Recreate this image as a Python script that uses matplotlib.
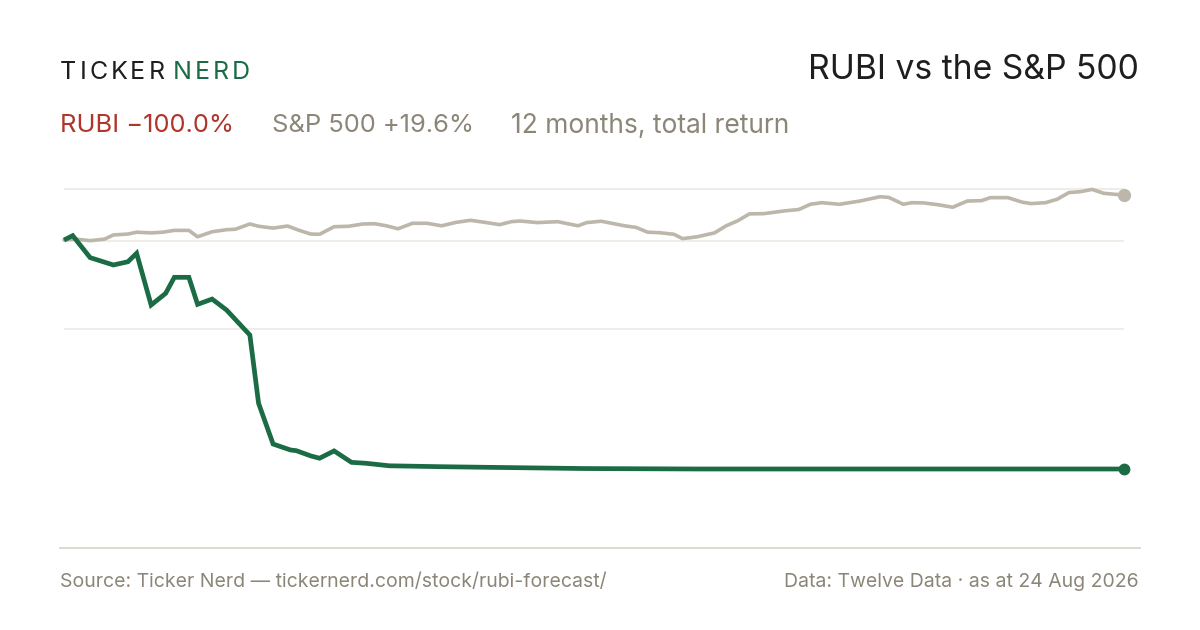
import matplotlib
matplotlib.use("Agg")
import matplotlib.pyplot as plt
from matplotlib.lines import Line2D

# ---------------- data ----------------
rubi_days = [0, 3, 9, 17, 22, 25, 30, 35, 38, 43, 46, 51, 56, 64, 67, 72, 78, 80,
             85, 88, 93, 99, 104, 112, 130, 148, 179, 219, 253, 288, 322, 365]
rubi_ret = [0.0, 1.9, -7.7, -10.9, -9.5, -5.8, -28.4, -23.3, -16.3, -16.3, -28.1,
            -25.8, -30.6, -41.5, -71.3, -89.1, -91.7, -92.0, -94.3, -95.3, -92.1,
            -97.1, -97.5, -98.6, -99.0, -99.3, -99.8, -100.0, -100.0, -100.0,
            -100.0, -100.0]

spx_days = [0, 4, 9, 14, 17, 22, 25, 30, 34, 38, 43, 46, 51, 56, 59, 64, 67, 72,
            77, 81, 85, 88, 93, 98, 103, 107, 111, 115, 120, 125, 130, 135, 140,
            145, 150, 154, 157, 163, 170, 177, 180, 185, 193, 197, 201, 205, 210,
            213, 218, 224, 228, 232, 236, 241, 248, 253, 257, 261, 267, 274, 281,
            284, 289, 292, 296, 301, 306, 311, 316, 319, 325, 330, 333, 338, 342,
            346, 350, 354, 358, 365]
spx_ret = [0.0, 0.4, -0.3, 0.4, 2.2, 2.6, 3.4, 3.1, 3.4, 4.2, 4.2, 1.4, 3.6, 4.5,
           4.7, 7.0, 6.0, 5.2, 6.1, 4.2, 2.6, 2.5, 5.8, 6.0, 7.0, 7.1, 6.2, 4.9,
           7.3, 7.3, 6.2, 7.7, 8.6, 7.7, 6.7, 8.0, 8.3, 7.6, 8.0, 6.2, 7.6, 8.2,
           6.2, 5.5, 3.4, 3.2, 2.5, 0.6, 1.4, 3.1, 6.2, 8.4, 11.4, 11.5, 12.7,
           13.3, 15.6, 16.3, 15.6, 17.0, 18.9, 18.6, 15.6, 16.3, 16.2, 15.4,
           14.3, 17.0, 17.2, 18.5, 18.5, 16.5, 15.9, 16.3, 17.8, 20.7, 21.1,
           22.1, 20.4, 19.6]

grid_levels = [22.3, -0.4, -38.9]

title = "RUBI vs the S&P 500"
rubi_label = "RUBI \u2212100.0%"
spx_label = "S&P 500 +19.6%"
period_label = "12 months, total return"
source_text = "Source: Ticker Nerd \u2014 tickernerd.com/stock/rubi-forecast/"
data_text = "Data: Twelve Data \u00b7 as at 24 Aug 2026"

# ---------------- style ----------------
GREEN = "#1b6b45"
GREY_LINE = "#bdb6aa"
GRID = "#ebe8e1"
RED = "#b0352b"
GREY_TEXT = "#8c8678"
DARK = "#1e1e1e"
FONT = ["Inter", "DejaVu Sans"]

W, H = 1200, 630
fig = plt.figure(figsize=(W / 100, H / 100), dpi=100)
fig.patch.set_facecolor("white")

def fx(px):
    return px / W

def fy(py):
    return 1 - py / H

# axes region in pixels
ax_l, ax_r, ax_t, ax_b = 64, 1124, 170, 510
ax = fig.add_axes([fx(ax_l), fy(ax_b), (ax_r - ax_l) / W, (ax_b - ax_t) / H])
ax.set_xlim(0, 365)
scale = 2.29  # px per percentage point
ax.set_ylim((240 - ax_b) / scale, (240 - ax_t) / scale)
ax.axis("off")

for g in grid_levels:
    ax.axhline(g, color=GRID, lw=1.1, zorder=1)

ax.plot(spx_days, spx_ret, color=GREY_LINE, lw=2.6, solid_joinstyle="round",
        solid_capstyle="round", zorder=2, clip_on=False)
ax.plot(rubi_days, rubi_ret, color=GREEN, lw=3.4, solid_joinstyle="miter",
        solid_capstyle="butt", zorder=3, clip_on=False)
ax.plot([spx_days[-1]], [spx_ret[-1]], "o", color=GREY_LINE, ms=8.5, zorder=4,
        clip_on=False)
ax.plot([rubi_days[-1]], [rubi_ret[-1]], "o", color=GREEN, ms=7.5, zorder=5,
        clip_on=False)

# separator line
fig.add_artist(Line2D([fx(60), fx(1140)], [fy(548), fy(548)], color="#dcd8cd",
                      lw=1.3, transform=fig.transFigure))

# ---------------- text ----------------
fig.canvas.draw()
renderer = fig.canvas.get_renderer()

def spaced(text, x_px, y_px, color, size, spacing_px):
    x = x_px
    for ch in text:
        t = fig.text(fx(x), fy(y_px), ch, color=color, fontsize=size,
                     family=FONT, va="baseline", ha="left")
        bb = t.get_window_extent(renderer=renderer)
        x = bb.x1 + spacing_px
    return x

xe = spaced("TICKER", 60, 79, DARK, 18, 3.0)
spaced("NERD", xe + 5, 79, GREEN, 18, 3.0)

fig.text(fx(1139), fy(79), title, ha="right", va="baseline", fontsize=24.2,
         color=DARK, family=FONT)

fig.text(fx(60), fy(132.5), rubi_label, ha="left", va="baseline", fontsize=18.4,
         color=RED, family=FONT)
fig.text(fx(272), fy(132.5), spx_label, ha="left", va="baseline", fontsize=18.4,
         color=GREY_TEXT, family=FONT)
fig.text(fx(511), fy(132.5), period_label, ha="left", va="baseline", fontsize=19,
         color=GREY_TEXT, family=FONT)

fig.text(fx(60), fy(587), source_text, ha="left", va="baseline", fontsize=14.0,
         color=GREY_TEXT, family=FONT)
fig.text(fx(1139), fy(587), data_text, ha="right", va="baseline", fontsize=14.0,
         color=GREY_TEXT, family=FONT)

fig.savefig("out.png", dpi=100, facecolor="white")
